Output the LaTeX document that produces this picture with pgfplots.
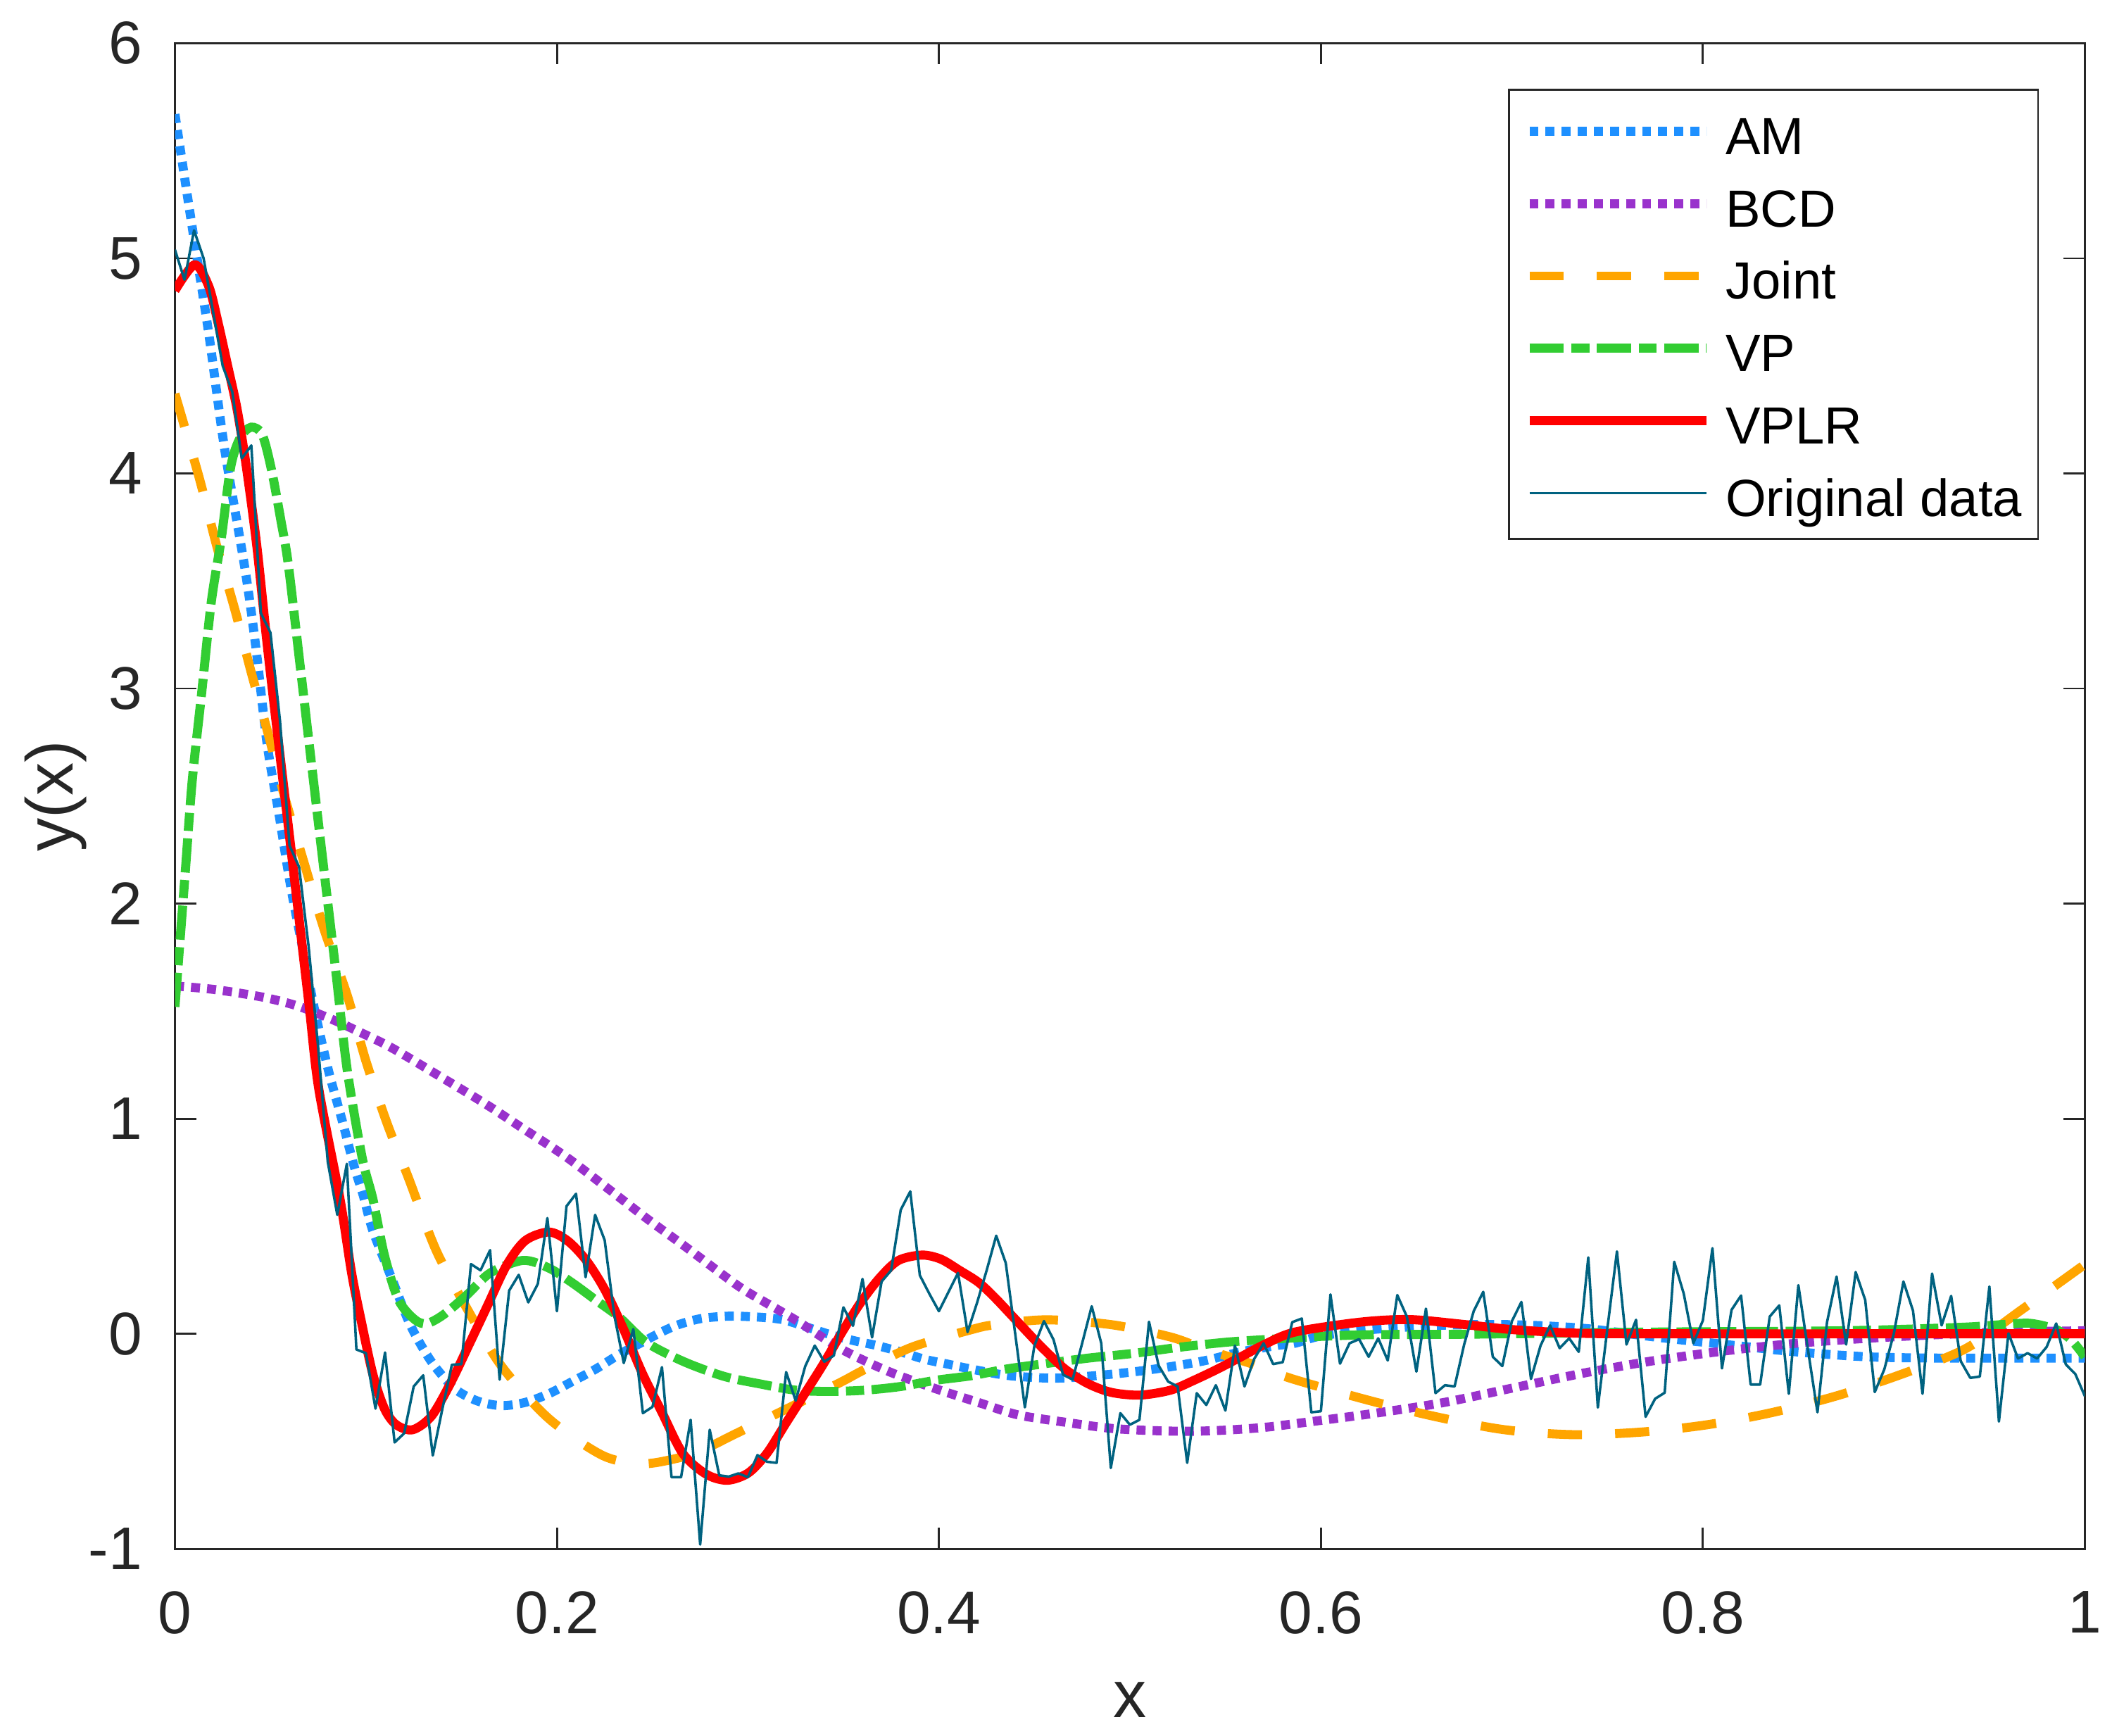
\documentclass[border=0pt]{standalone}
\usepackage{fontspec}
\setmainfont{Liberation Sans}
\usepackage{pgfplots}
\pgfplotsset{compat=1.18}
\definecolor{axcol}{RGB}{38,38,38}
\definecolor{amc}{RGB}{30,144,255}
\definecolor{bcdc}{RGB}{153,50,204}
\definecolor{jointc}{RGB}{255,165,0}
\definecolor{vpc}{RGB}{50,205,50}
\definecolor{vplrc}{RGB}{255,0,0}
\definecolor{origc}{RGB}{0,98,128}
\begin{document}
\begin{tikzpicture}
\begin{axis}[
  scale only axis, width=379.9pt, height=299.5pt,
  xmin=0, xmax=1, ymin=-1, ymax=6,
  xtick={0,0.2,0.4,0.6,0.8,1},
  ytick={-1,0,1,2,3,4,5,6},
  tick align=inside, major tick length=4.2pt,
  axis line style={axcol, line width=0.4pt},
  every tick/.style={axcol, line width=0.4pt},
  /pgf/number format/assume math mode=true,
  tick label style={font=\fontsize{12}{14}\selectfont, text=axcol},
  xticklabel style={anchor=north, inner sep=0pt, yshift=-8.2pt},
  yticklabel style={anchor=east, inner sep=0pt, xshift=-6.3pt},
  xlabel={x}, ylabel={y(x)},
  label style={font=\fontsize{13.2}{15}\selectfont, text=axcol},
  xlabel style={at={(axis description cs:0.5,-0.1002)}, anchor=center},
  ylabel style={at={(axis description cs:-0.0624,0.5)}, anchor=center},
  legend style={at={(axis description cs:1,1)}, anchor=north east,
    xshift=-9.1pt, yshift=-9pt, draw=axcol, line width=0.4pt,
    font=\fontsize{10.4}{12}\selectfont, inner xsep=3.2pt, inner ysep=3pt,
    row sep=3pt, column sep=2.9pt,
    nodes={inner sep=0pt, text height=9.9pt, text depth=1.5pt}},
  legend cell align=left,
  legend image code/.code={\draw[#1] (0pt,0.4pt) -- (35.2pt,0.4pt);},
]
\addplot[amc, line width=1.8pt, dash pattern=on 1.8pt off 1.4pt, smooth] coordinates {
(0,5.67) (0.0086,5.17) (0.0177,4.65) (0.0259,4.12) (0.0366,3.56) (0.0421,3.21)
(0.0483,2.74) (0.0544,2.42) (0.0606,2.08) (0.0667,1.80) (0.0728,1.52) (0.0802,1.23)
(0.0876,0.99) (0.0938,0.78) (0.0987,0.64) (0.1036,0.48) (0.1134,0.26) (0.1233,0.04)
(0.1343,-0.13) (0.1466,-0.256) (0.1589,-0.314) (0.1712,-0.334) (0.1834,-0.319)
(0.1957,-0.279) (0.2080,-0.222) (0.2203,-0.164) (0.2326,-0.096) (0.2449,-0.038)
(0.2547,0.008) (0.2635,0.042) (0.2756,0.071) (0.2904,0.082) (0.3063,0.077)
(0.3186,0.065) (0.3309,0.031) (0.3432,-0.004) (0.3555,-0.032) (0.3677,-0.055)
(0.38,-0.084) (0.3923,-0.118) (0.4046,-0.141) (0.4169,-0.164) (0.4353,-0.193)
(0.4537,-0.205) (0.466,-0.205) (0.4843,-0.193) (0.5028,-0.176) (0.5213,-0.153)
(0.5397,-0.124) (0.5582,-0.084) (0.5766,-0.055) (0.5864,-0.044) (0.6,-0.01)
(0.627,0.02) (0.664,0.04) (0.701,0.042) (0.738,0.025) (0.775,-0.015) (0.812,-0.05)
(0.849,-0.084) (0.886,-0.107) (0.923,-0.113) (0.96,-0.113) (1.0,-0.113)
};
\addlegendentry{AM}
\addplot[bcdc, line width=1.8pt, dash pattern=on 1.8pt off 1.4pt, smooth] coordinates {
(0,1.617) (0.0213,1.60) (0.046,1.565) (0.0642,1.524) (0.0827,1.46) (0.095,1.41)
(0.1134,1.33) (0.14,1.19) (0.162,1.072) (0.183,0.95) (0.2046,0.824) (0.226,0.68)
(0.2469,0.537) (0.268,0.40) (0.2892,0.259) (0.3002,0.192) (0.3248,0.065)
(0.3493,-0.073) (0.3739,-0.176) (0.3985,-0.256) (0.4206,-0.319) (0.4414,-0.377)
(0.466,-0.411) (0.4906,-0.44) (0.5151,-0.451) (0.5336,-0.453) (0.552,-0.447)
(0.5704,-0.435) (0.5864,-0.418) (0.627,-0.371) (0.664,-0.32) (0.701,-0.251)
(0.738,-0.182) (0.775,-0.124) (0.812,-0.079) (0.849,-0.044) (0.886,-0.021)
(0.923,-0.004) (0.96,0.008) (1.0,0.014)
};
\addlegendentry{BCD}
\addplot[jointc, line width=1.8pt, dash pattern=on 6.8pt off 6.6pt, smooth] coordinates {
(0,4.37) (0.0127,3.98) (0.0218,3.665) (0.0317,3.356) (0.0397,3.083) (0.049,2.783)
(0.057,2.51) (0.0685,2.163) (0.0784,1.872) (0.0903,1.571) (0.0999,1.271) (0.111,0.98)
(0.122,0.731) (0.1368,0.387) (0.154,0.10) (0.1712,-0.153) (0.1957,-0.394)
(0.224,-0.566) (0.2449,-0.604) (0.2633,-0.578) (0.2756,-0.543) (0.294,-0.463)
(0.3125,-0.383) (0.3297,-0.308) (0.3493,-0.222) (0.3616,-0.164) (0.3862,-0.061)
(0.4169,0.019) (0.4292,0.042) (0.4562,0.065) (0.4906,0.042) (0.5213,-0.015)
(0.5397,-0.073) (0.5643,-0.141) (0.5852,-0.21) (0.627,-0.314) (0.6615,-0.388)
(0.6961,-0.446) (0.7319,-0.469) (0.7677,-0.457) (0.8022,-0.423) (0.8368,-0.365)
(0.8714,-0.285) (0.9059,-0.182) (0.938,-0.067) (0.9677,0.117) (1.0,0.323)
};
\addlegendentry{Joint}
\addplot[vpc, line width=1.8pt, dash pattern=on 6.8pt off 1.5pt on 3.6pt off 1.5pt, smooth] coordinates {
(0,1.52) (0.0053,2.135) (0.009,2.567) (0.014,2.98) (0.019,3.40) (0.0243,3.70)
(0.0292,4.03) (0.0341,4.165) (0.0399,4.215) (0.0457,4.18) (0.0506,4.015)
(0.0555,3.78) (0.0593,3.58) (0.0655,3.11) (0.0716,2.642) (0.0778,2.172)
(0.084,1.703) (0.0901,1.233) (0.098,0.82) (0.1036,0.628) (0.1097,0.364)
(0.1171,0.157) (0.1257,0.065) (0.1319,0.048) (0.1405,0.088) (0.1528,0.18)
(0.1651,0.283) (0.1822,0.341) (0.1957,0.306) (0.208,0.237) (0.2203,0.157)
(0.2326,0.077) (0.2449,-0.027) (0.2547,-0.08) (0.2695,-0.141) (0.2879,-0.199)
(0.3063,-0.233) (0.3248,-0.262) (0.3432,-0.268) (0.3616,-0.262) (0.38,-0.245)
(0.3985,-0.216) (0.4169,-0.195) (0.4353,-0.164) (0.4537,-0.141) (0.4783,-0.113)
(0.5028,-0.09) (0.5274,-0.061) (0.552,-0.038) (0.5766,-0.024) (0.6,-0.012)
(0.627,-0.004) (0.676,-0.002) (0.775,0.008) (0.873,0.014) (0.935,0.03)
(0.96,0.045) (0.972,0.048) (0.985,0.02) (0.993,-0.03) (1.0,-0.107)
};
\addlegendentry{VP}
\addplot[vplrc, line width=1.8pt, line join=round, smooth] coordinates {
(0,4.85) (0.0103,4.97) (0.0177,4.87) (0.0226,4.70) (0.0276,4.50) (0.0325,4.30)
(0.0374,4.03) (0.0429,3.66) (0.0483,3.205) (0.0544,2.736) (0.0606,2.266)
(0.0655,1.89) (0.0704,1.515) (0.0753,1.139) (0.0864,0.628) (0.0925,0.283)
(0.0974,0.065) (0.1036,-0.187) (0.1097,-0.348) (0.1159,-0.423) (0.1245,-0.446)
(0.1343,-0.383) (0.1441,-0.233) (0.154,-0.05) (0.1638,0.134) (0.1736,0.318)
(0.1834,0.433) (0.1957,0.473) (0.2055,0.433) (0.2154,0.341) (0.2252,0.203)
(0.235,0.019) (0.2449,-0.187) (0.2547,-0.36) (0.2658,-0.555) (0.278,-0.652)
(0.2891,-0.681) (0.3002,-0.647) (0.31,-0.555) (0.3198,-0.417) (0.3297,-0.279)
(0.3395,-0.141) (0.3493,0.008) (0.3591,0.146) (0.369,0.26) (0.3788,0.341)
(0.3911,0.366) (0.401,0.347) (0.4108,0.295) (0.4206,0.24) (0.4292,0.169)
(0.4414,0.054) (0.4537,-0.061) (0.466,-0.164) (0.4783,-0.233) (0.4906,-0.273)
(0.5053,-0.285) (0.5213,-0.262) (0.5336,-0.216) (0.5459,-0.164) (0.5582,-0.107)
(0.5704,-0.05) (0.5864,0.008) (0.6205,0.054) (0.6467,0.066) (0.6763,0.042)
(0.701,0.019) (0.738,0.002) (0.8,0.0) (0.9,0.0) (1.0,0.0)
};
\addlegendentry{VPLR}
\addplot[origc, line width=0.5pt, line join=round] table {
x y
0.000 5.04
0.005 4.90
0.010 5.13
0.015 5.00
0.020 4.75
0.025 4.50
0.030 4.38
0.035 4.07
0.040 4.13
0.045 3.35
0.050 3.26
0.055 2.85
0.060 2.27
0.065 2.17
0.070 1.80
0.075 1.33
0.080 0.80
0.085 0.553
0.090 0.79
0.095 -0.073
0.100 -0.09
0.105 -0.348
0.110 -0.087
0.115 -0.505
0.120 -0.463
0.125 -0.245
0.130 -0.193
0.135 -0.566
0.140 -0.35
0.145 -0.144
0.150 -0.141
0.155 0.324
0.160 0.295
0.165 0.389
0.170 -0.213
0.175 0.201
0.180 0.274
0.185 0.146
0.190 0.232
0.195 0.538
0.200 0.105
0.205 0.593
0.210 0.651
0.215 0.263
0.220 0.553
0.225 0.435
0.230 0.088
0.235 -0.136
0.240 0.022
0.245 -0.369
0.250 -0.34
0.255 -0.155
0.260 -0.667
0.265 -0.667
0.270 -0.40
0.275 -0.98
0.280 -0.446
0.285 -0.658
0.290 -0.664
0.295 -0.649
0.300 -0.667
0.305 -0.564
0.310 -0.595
0.315 -0.60
0.320 -0.178
0.325 -0.311
0.330 -0.151
0.335 -0.055
0.340 -0.13
0.345 -0.101
0.350 0.123
0.355 0.037
0.360 0.255
0.365 -0.017
0.370 0.243
0.375 0.295
0.380 0.576
0.385 0.662
0.390 0.272
0.395 0.186
0.400 0.105
0.405 0.194
0.410 0.283
0.415 0.008
0.420 0.145
0.425 0.295
0.430 0.456
0.435 0.329
0.440 -0.004
0.445 -0.342
0.450 -0.055
0.455 0.059
0.460 -0.027
0.465 -0.19
0.470 -0.213
0.475 -0.044
0.480 0.128
0.485 -0.044
0.490 -0.624
0.495 -0.369
0.500 -0.423
0.505 -0.40
0.510 0.056
0.515 -0.147
0.520 -0.222
0.525 -0.245
0.530 -0.60
0.535 -0.276
0.540 -0.331
0.545 -0.239
0.550 -0.357
0.555 -0.055
0.560 -0.245
0.565 -0.118
0.570 -0.044
0.575 -0.141
0.580 -0.132
0.585 0.054
0.590 0.071
0.595 -0.365
0.600 -0.36
0.605 0.183
0.610 -0.139
0.615 -0.044
0.620 -0.025
0.625 -0.107
0.630 -0.021
0.635 -0.124
0.640 0.18
0.645 0.080
0.650 -0.176
0.655 0.117
0.660 -0.276
0.665 -0.239
0.670 -0.245
0.675 -0.05
0.680 0.105
0.685 0.195
0.690 -0.107
0.695 -0.15
0.700 0.059
0.705 0.148
0.710 -0.21
0.715 -0.055
0.720 0.039
0.725 -0.067
0.730 -0.021
0.735 -0.084
0.740 0.355
0.745 -0.343
0.750 0.025
0.755 0.383
0.760 -0.05
0.765 0.065
0.770 -0.386
0.775 -0.302
0.780 -0.274
0.785 0.335
0.790 0.186
0.795 -0.044
0.800 0.062
0.805 0.398
0.810 -0.161
0.815 0.111
0.820 0.178
0.825 -0.236
0.830 -0.236
0.835 0.080
0.840 0.132
0.845 -0.279
0.850 0.226
0.855 -0.073
0.860 -0.365
0.865 0.054
0.870 0.266
0.875 -0.05
0.880 0.287
0.885 0.157
0.890 -0.271
0.895 -0.165
0.900 0.002
0.905 0.243
0.910 0.108
0.915 -0.279
0.920 0.28
0.925 0.039
0.930 0.176
0.935 -0.127
0.940 -0.205
0.945 -0.199
0.950 0.22
0.955 -0.408
0.960 0.002
0.965 -0.115
0.970 -0.09
0.975 -0.115
0.980 -0.061
0.985 0.048
0.990 -0.142
0.995 -0.187
1.000 -0.29
};
\addlegendentry{Original data}
\end{axis}
\path ([xshift=-34.8pt,yshift=-37.2pt]current axis.south west) rectangle ([xshift=5.4pt,yshift=8.6pt]current axis.north east);
\end{tikzpicture}
\end{document}
